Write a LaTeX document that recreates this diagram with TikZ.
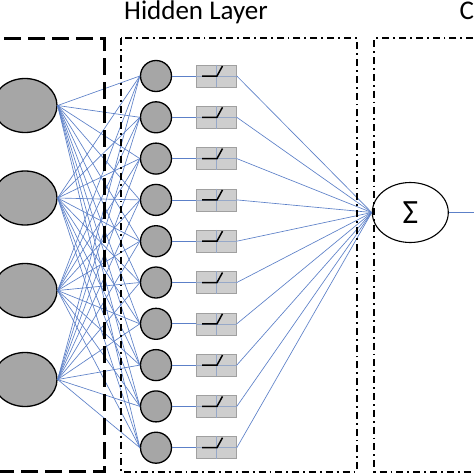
\documentclass[tikz,border=0pt]{standalone}
\usepackage{fontspec}
\setmainfont{Carlito}
\usetikzlibrary{shapes.geometric}
\definecolor{cgray}{RGB}{166,166,166}
\definecolor{linkblue}{RGB}{92,128,200}
\definecolor{boxfill}{RGB}{206,206,206}
\definecolor{boxborder}{RGB}{160,160,160}
\definecolor{divblue}{RGB}{150,168,200}
\tikzset{
  inp/.style={ellipse, draw=black, line width=1.3pt, fill=cgray, minimum width=64pt, minimum height=54pt, inner sep=0pt},
  hid/.style={circle, draw=black, line width=1.3pt, fill=cgray, minimum size=31pt, inner sep=0pt},
  relubox/.style={rectangle, draw=boxborder, line width=0.6pt, fill=boxfill, minimum width=40pt, minimum height=22pt, inner sep=0pt},
  sumnode/.style={ellipse, draw=black, line width=1.1pt, fill=white, minimum width=76pt, minimum height=60pt, inner sep=0pt, font=\fontsize{34}{34}\selectfont},
  conn/.style={draw=linkblue, line width=0.65pt},
  longdash/.style={draw=black, line width=2.6pt, dash pattern=on 17pt off 7pt},
  dashdotbox/.style={draw=black, line width=2.3pt, dash pattern=on 7pt off 4pt on 1.8pt off 4pt},
  titletext/.style={font=\fontsize{27}{27}\selectfont, inner sep=0pt, anchor=base},
}
\begin{document}
\begin{tikzpicture}[x=1pt,y=-1pt]
\useasboundingbox (0,0) rectangle (474,474);
\clip (0,0) rectangle (474,474);
\fill[white] (0,0) rectangle (474,474);
% titles
\node[titletext] (title) at (196,19.5) {Hidden Layer};
\node[titletext, anchor=base west] (otitle) at (459.5,19.5) {C};
% input nodes
\foreach \i/\y in {1/105.5, 2/198, 3/290.5, 4/379.5} {
  \node[inp] (in\i) at (25,\y) {};
}
% hidden nodes and relu boxes
\foreach \j in {0,...,9} {
  \pgfmathsetmacro{\yy}{76+41.3*\j}
  \node[hid] (h\j) at (156,\yy) {};
  \node[relubox] (r\j) at (216.5,\yy) {};
  \draw[divblue, line width=0.6pt] (r\j.north) -- (r\j.south);
  \draw[divblue, line width=0.6pt] (r\j.west) -- (r\j.east);
  \draw[black, line width=1.5pt] ([xshift=-14.5pt]r\j.center) -- ++(15,0) -- ++(5.5,-10);
}
% sum node
\node[sumnode] (sum) at (410.3,212.5) {Σ};
\coordinate (outend) at (480,212.5);
% connections
\foreach \i in {1,...,4} {
  \foreach \j in {0,...,9} {
    \draw[conn] (in\i.east) -- (h\j.west);
  }
}
\foreach \j in {0,...,9} {
  \draw[conn] (h\j.east) -- (r\j.west);
  \draw[conn] (r\j.east) -- (sum.west);
}
\draw[conn] (sum.east) -- (outend);
% layer boxes
\draw[longdash] (-20,38.3) -- (104.3,38.3) -- (104.3,471.7) -- (-20,471.7);
\draw[dashdotbox] (120.7,38.3) rectangle (356.7,471.7);
\draw[dashdotbox] (490,38.3) -- (374.3,38.3) -- (374.3,471.7) -- (490,471.7);
\end{tikzpicture}
\end{document}
